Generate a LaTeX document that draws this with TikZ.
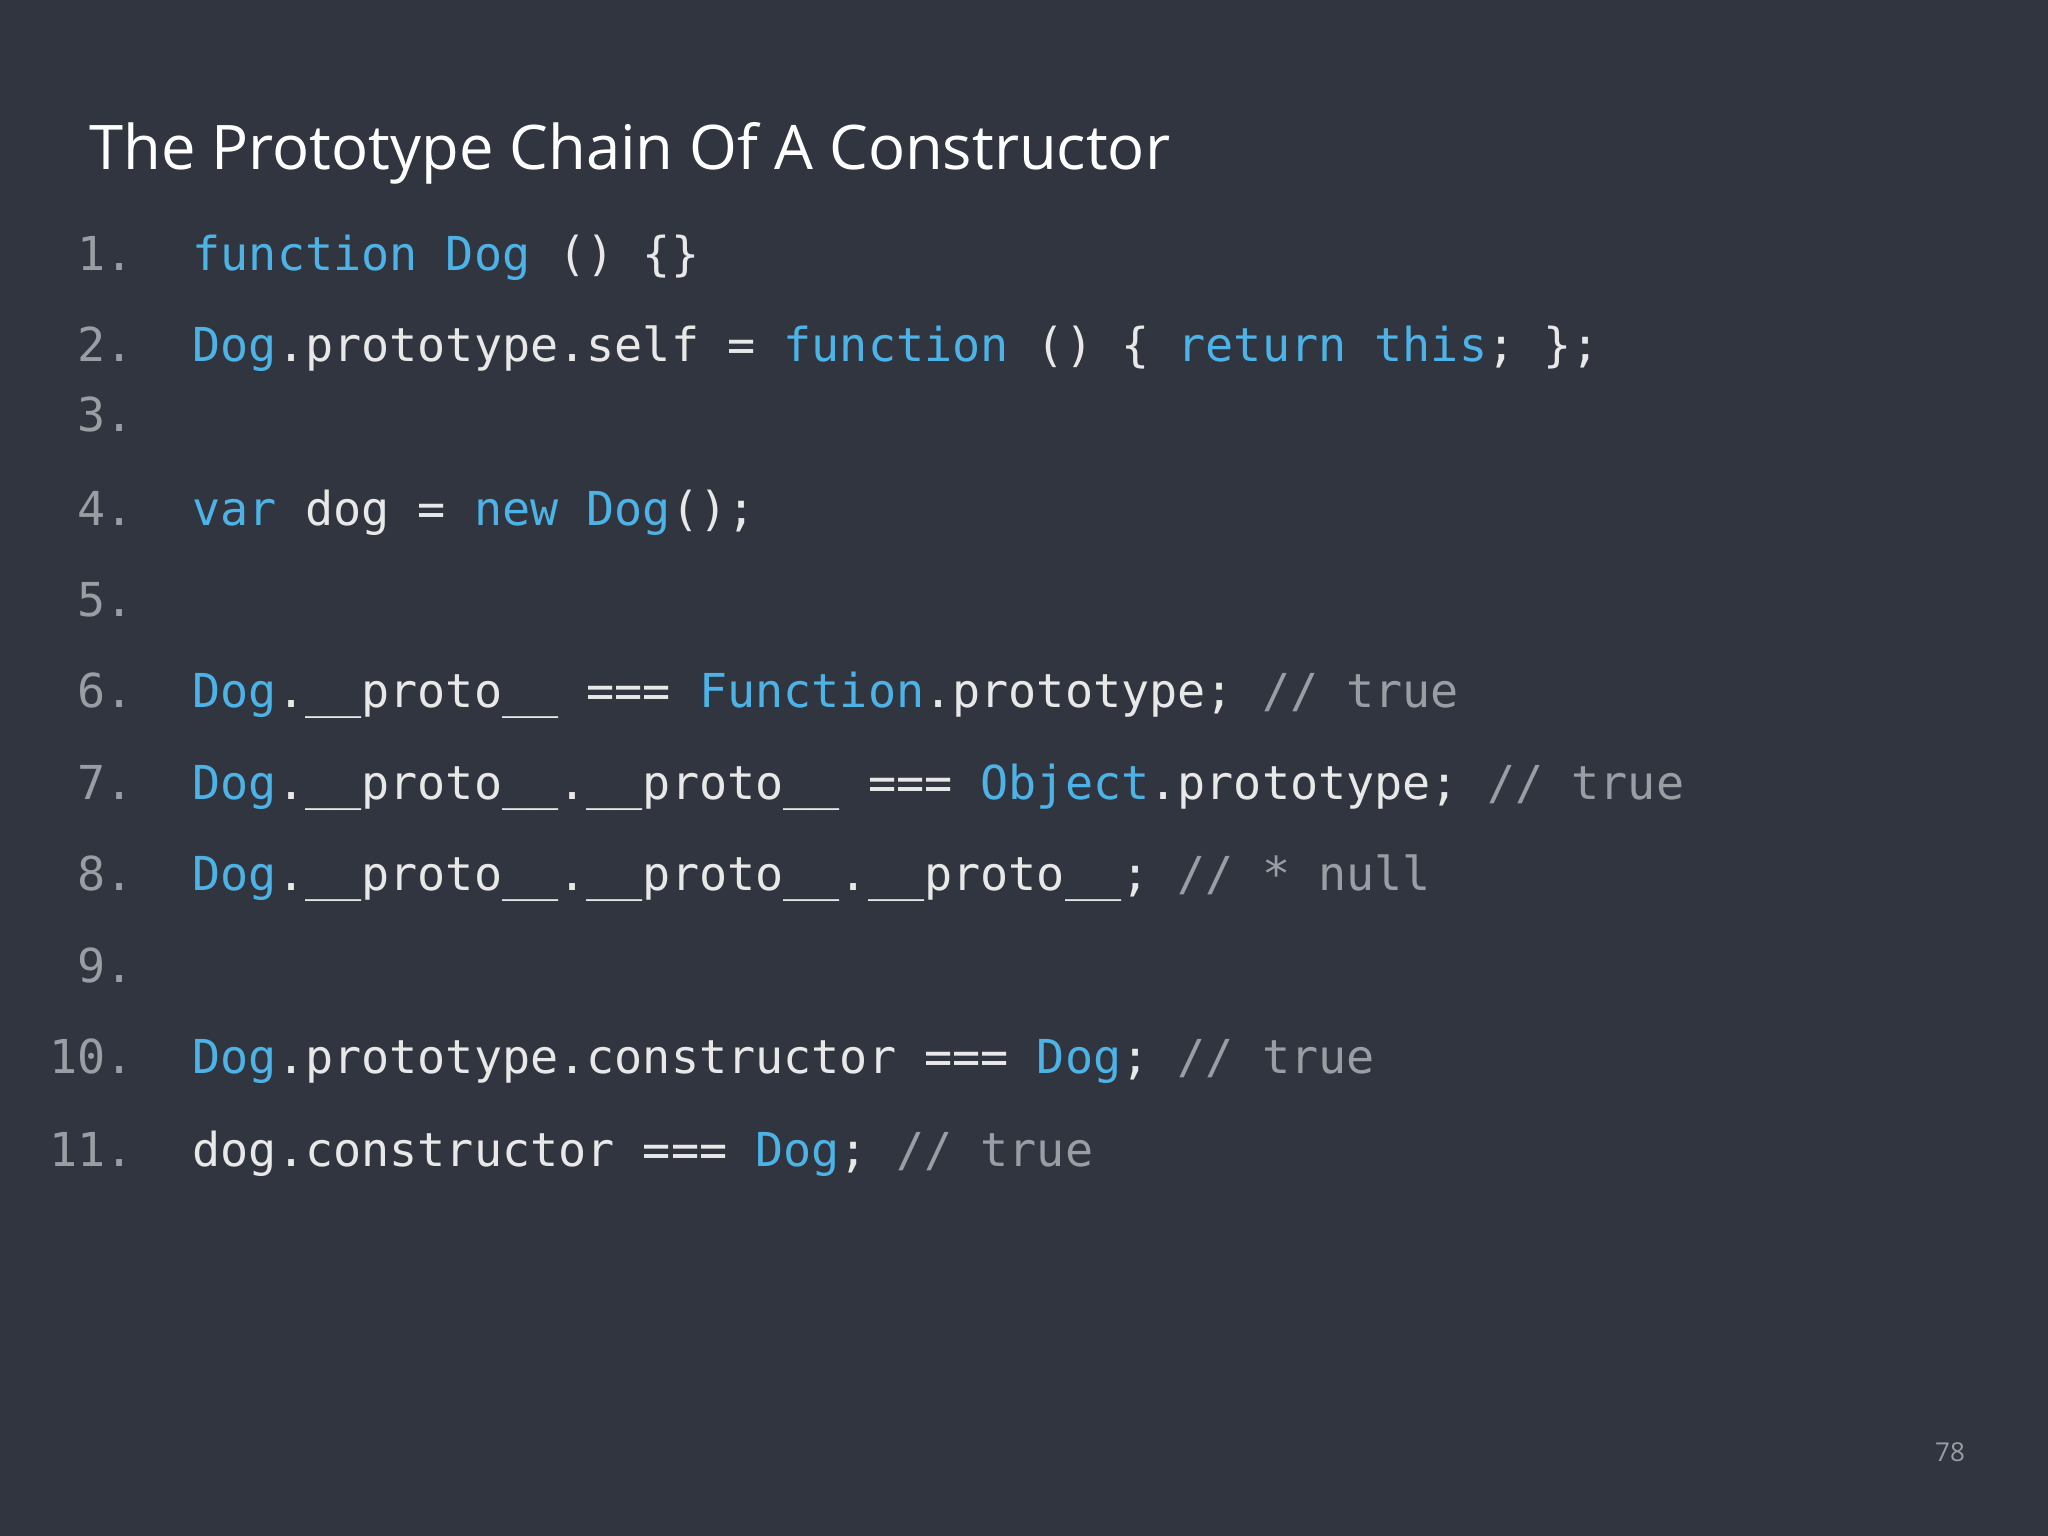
\documentclass[tikz,border=0pt]{standalone}
\usepackage{fontspec}
\setmainfont{Open Sans}
\setmonofont{DejaVu Sans Mono}
\usetikzlibrary{positioning}
\definecolor{slidebg}{HTML}{31353F}
\definecolor{kblue}{HTML}{4DB3E6}
\definecolor{ktext}{HTML}{E8E8E8}
\definecolor{kgray}{HTML}{9A9DA3}
\newcommand{\jkw}[1]{\textcolor{kblue}{#1}}
\newcommand{\jcm}[1]{\textcolor{kgray}{#1}}
\tikzset{lnum/.style = {anchor=base east, inner sep=0, text=kgray, font=\ttfamily\fontsize{13.3}{16}\selectfont},
         code/.style = {anchor=base west, inner sep=0, text=ktext, font=\ttfamily\fontsize{13.3}{16}\selectfont}}
\begin{document}
\begin{tikzpicture}[x=0.01306cm, y=-0.01306cm]
  \fill [slidebg] (0, 0) rectangle (1568, 1176);
  \useasboundingbox (0, 0) rectangle (1568, 1176);

  \node [anchor=base west, inner sep=0, text=white, font=\fontsize{17.5}{20}\selectfont]
    (title) at (68, 130) {The Prototype Chain Of A Constructor};

  % line numbers
  \foreach \n/\y in {1/207, 2/277, 3/330, 4/402, 5/472, 6/542, 7/612, 8/682, 9/752, 10/822, 11/893}{
    \node [lnum] (n\n) at (103, \y) {\n.};
  }

  % code lines
  \node [code] (c1) at (147, 207) {\jkw{function Dog} () \{\}};
  \node [code] (c2) at (147, 277) {\jkw{Dog}.prototype.self = \jkw{function} () \{ \jkw{return this}; \};};
  \node [code] (c4) at (147, 402) {\jkw{var} dog = \jkw{new Dog}();};
  \node [code] (c6) at (147, 542) {\jkw{Dog}.\_\_proto\_\_ === \jkw{Function}.prototype; \jcm{// true}};
  \node [code] (c7) at (147, 612) {\jkw{Dog}.\_\_proto\_\_.\_\_proto\_\_ === \jkw{Object}.prototype; \jcm{// true}};
  \node [code] (c8) at (147, 682) {\jkw{Dog}.\_\_proto\_\_.\_\_proto\_\_.\_\_proto\_\_; \jcm{// * null}};
  \node [code] (c10) at (147, 822) {\jkw{Dog}.prototype.constructor === \jkw{Dog}; \jcm{// true}};
  \node [code] (c11) at (147, 893) {dog.constructor === \jkw{Dog}; \jcm{// true}};

  \node [anchor=base, inner sep=0, text=kgray, font=\fontsize{7.4}{9}\selectfont] (page) at (1493, 1119) {78};
\end{tikzpicture}
\end{document}
